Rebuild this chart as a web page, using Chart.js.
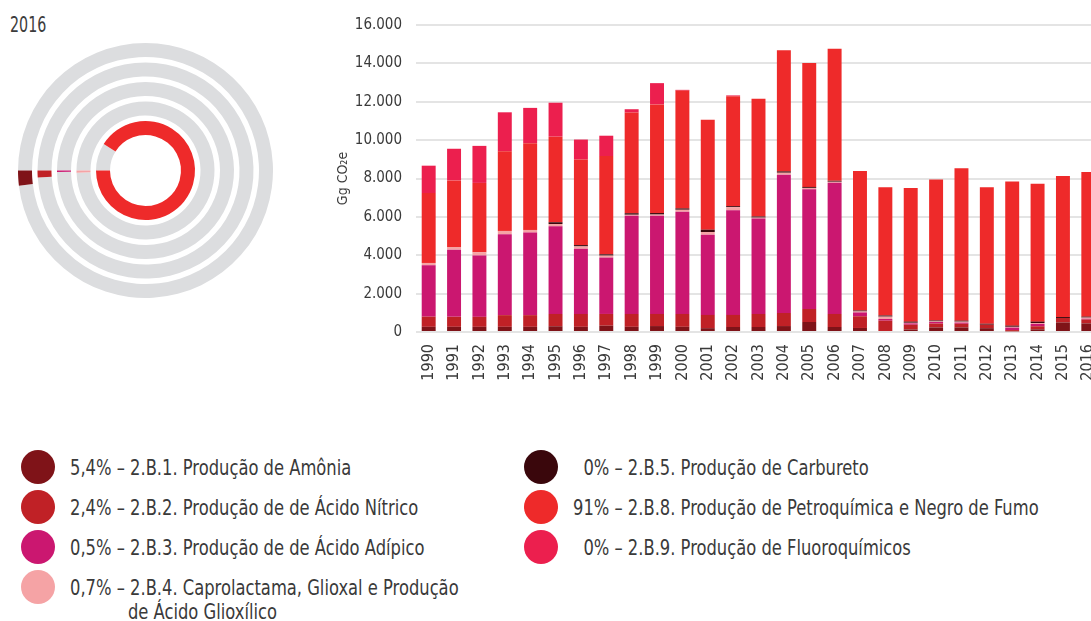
<!DOCTYPE html>
<html>
<head>
<meta charset="utf-8">
<script src="https://cdn.jsdelivr.net/npm/chart.js@4.4.0/dist/chart.umd.min.js"></script>
<style>
  html, body { margin:0; padding:0; background:#fff; }
  body { width:1091px; height:621px; overflow:hidden; position:relative;
         font-family:"DejaVu Sans Condensed","DejaVu Sans",sans-serif; font-stretch:condensed; color:#3a3a3a; }
  #title { position:absolute; left:10px; top:12px; font-size:22px; color:#3c3c3c;
           transform:scaleX(0.72); transform-origin:0 0; }
  #ring { position:absolute; left:18px; top:43px; }
  #bars { position:absolute; left:330px; top:0px; }
  .dot { position:absolute; width:34px; height:34px; border-radius:50%; }
  .txt { position:absolute; font-size:21px; line-height:24px; white-space:pre; width:700px;
         transform:scaleX(0.865); transform-origin:0 0; padding-left:67px; text-indent:-67px; }
</style>
</head>
<body>
<div id="title">2016</div>
<canvas id="ring" width="255" height="255"></canvas>
<canvas id="bars" width="771" height="400"></canvas>
<div id="legend"></div>
<script>
// ---- data ----
const years = ['1990','1991','1992','1993','1994','1995','1996','1997','1998','1999','2000','2001','2002','2003','2004','2005','2006','2007','2008','2009','2010','2011','2012','2013','2014','2015','2016'];
const amonia   = [270,270,270,270,270,300,270,330,270,310,270,200,260,260,310,520,260,210,0,130,240,240,200,40,140,500,450];
const nitrico  = [530,520,520,610,610,640,670,610,670,630,670,690,630,680,680,680,680,610,590,250,200,190,180,60,160,230,200];
const adipico  = [2680,3500,3200,4220,4300,4570,3400,2940,5120,5120,5330,4180,5450,4970,7210,6240,6840,200,90,70,80,60,0,130,120,0,40];
const capro    = [120,140,170,170,140,120,120,100,50,60,100,140,170,50,100,70,50,50,120,30,30,50,0,40,50,0,60];
const carbureto= [0,0,0,0,0,90,70,70,80,80,70,120,50,60,70,50,50,50,60,60,50,50,50,60,70,50,50];
const petro    = [3643,3470,3610,4150,4520,4460,4460,5120,5250,5660,6140,5730,5730,6130,6320,6460,6880,7270,6690,6960,7350,7950,7120,7520,7190,7350,7540];
const fluoro   = [1425,1650,1930,2030,1840,1770,1040,1060,170,1110,40,0,40,0,0,0,0,0,0,0,0,0,0,0,0,0,0];
const yTickLabels = ['0','2.000','4.000','6.000','8.000','10.000','12.000','14.000','16.000'];
const yTitle = 'Gg CO\u2082e';
const seriesNames = ['2.B.1. Produção de Amônia','2.B.2. Produção de de Ácido Nítrico','2.B.3. Produção de de Ácido Adípico','2.B.4. Caprolactama, Glioxal e Produção\nde Ácido Glioxílico','2.B.5. Produção de Carbureto','2.B.8. Produção de Petroquímica e Negro de Fumo','2.B.9. Produção de Fluoroquímicos'];
const sharePct = ['5,4%','2,4%','0,5%','0,7%','\u20070%','91%','\u20070%'];
const seriesColors = ['#7f1318','#c02126','#cb1770','#f5a3a5','#3a070c','#ee2a2a','#ec1f4e'];
// ring chart (2016): visible arc share of each ring, % of full circle
const ringSeries = [0,1,2,3,5];
const ringShare = [1.9,1.05,0.25,0.5,91];

const FONT = '"DejaVu Sans Condensed","DejaVu Sans",sans-serif';

// ---- bar chart ----
const seriesData = [amonia,nitrico,adipico,capro,carbureto,petro,fluoro];
new Chart(document.getElementById('bars'), {
  type:'bar',
  data:{ labels:years,
    datasets: seriesData.map((d,i)=>({ label:seriesNames[i], data:d, backgroundColor:seriesColors[i],
      borderWidth:0, barPercentage:0.55, categoryPercentage:1.0 })) },
  options:{ responsive:false, animation:false, devicePixelRatio:1,
    layout:{ padding:{ top:25, right:0, bottom:0, left:0 } },
    plugins:{ legend:{display:false}, tooltip:{enabled:false} },
    scales:{
      x:{ stacked:true, grid:{display:false, drawTicks:false}, border:{display:false},
          ticks:{ autoSkip:false, minRotation:90, maxRotation:90, padding:12, color:'#3a3a3a',
                  font:{ family:FONT, size:16 } },
          afterFit:(s)=>{ s.height = 68; s.paddingLeft = 0; s.paddingRight = 0; } },
      y:{ stacked:true, min:0, max:16000,
          grid:{ color:'#e4e4e4', lineWidth:2, drawTicks:false }, border:{display:false},
          ticks:{ stepSize:2000, padding:14, color:'#3a3a3a',
                  font:{ family:FONT, size:15 },
                  callback:(v)=>yTickLabels[Math.round(v/2000)] },
          title:{ display:true, text:yTitle, color:'#3a3a3a', padding:{top:5,bottom:0},
                  font:{ family:FONT, size:14 } },
          afterFit:(s)=>{ s.width = 86; } }
    } }
});

// ---- ring chart ----
const ringDatasets = [];
ringSeries.forEach((si,k)=>{
  if (k>0) ringDatasets.push({ data:[1], backgroundColor:['rgba(0,0,0,0)'], borderWidth:0, weight:5.5, hoverOffset:0 });
  ringDatasets.push({ data:[100-ringShare[k], ringShare[k]], backgroundColor:['#dcdddf', seriesColors[si]],
    borderWidth:0, weight:14, hoverOffset:0 });
});
new Chart(document.getElementById('ring'), {
  type:'doughnut',
  data:{ labels:['',''], datasets:ringDatasets },
  options:{ responsive:false, animation:false, devicePixelRatio:1, rotation:270, cutout:'27.85%',
    layout:{padding:0}, plugins:{ legend:{display:false}, tooltip:{enabled:false} } }
});

// ---- legend ----
const legendPos = [[38,467,70],[38,507,70],[38,547,70],[38,587,70],[541,467,573],[541,507,573],[541,547,573]];
const lg = document.getElementById('legend');
seriesNames.forEach((n,i)=>{
  const [cx,cy,tx] = legendPos[i];
  const d = document.createElement('div'); d.className='dot';
  d.style.left=(cx-17)+'px'; d.style.top=(cy-17)+'px'; d.style.background=seriesColors[i];
  lg.appendChild(d);
  const t = document.createElement('div'); t.className='txt';
  t.style.left=tx+'px'; t.style.top=(cy-11)+'px';
  t.textContent = sharePct[i] + ' – ' + n;
  lg.appendChild(t);
});
</script>
</body>
</html>
